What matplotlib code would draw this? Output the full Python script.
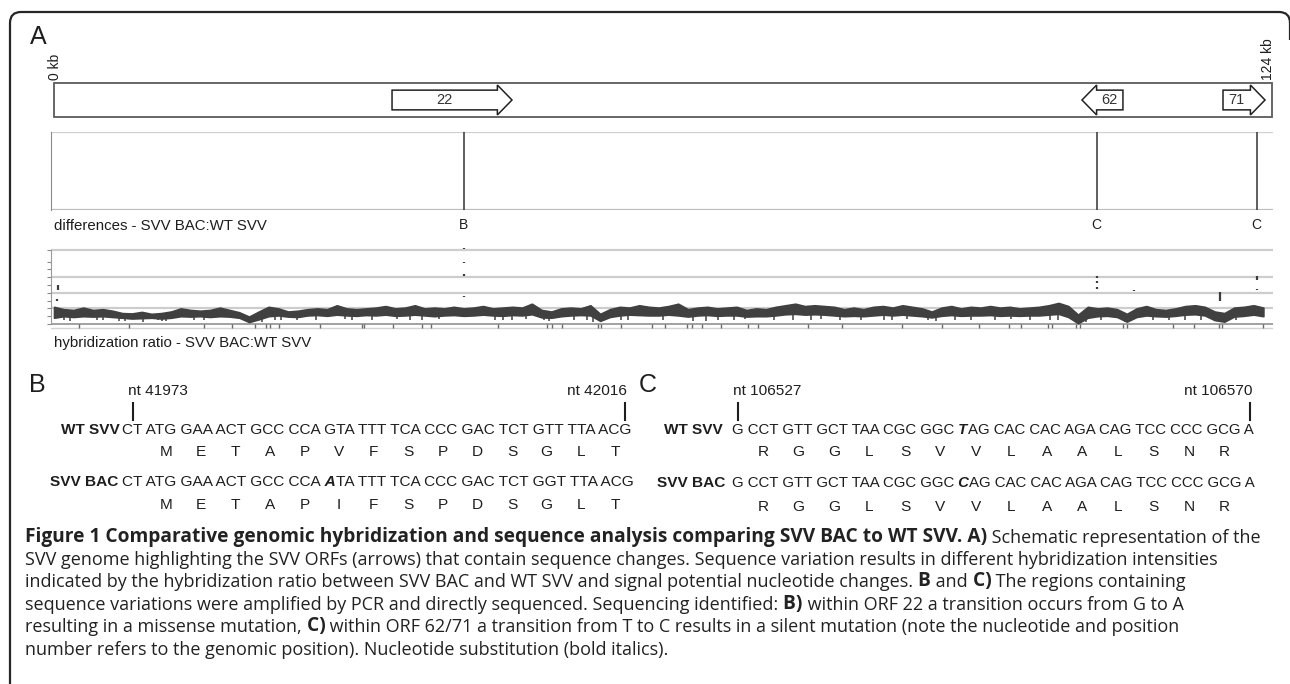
import numpy as np
import matplotlib.pyplot as plt
from matplotlib.patches import Polygon, Rectangle, PathPatch
from matplotlib.path import Path

plt.rcParams['font.family'] = ['Liberation Sans', 'DejaVu Sans']

W, H = 1290, 684

# genome map, kb
genome_kb = 124.884
orf_names = ['22', '62', '71']
orf_left_kb = [34.66, 105.4, 119.86]
orf_right_kb = [46.96, 109.6, 124.17]
orf_strand = [1, -1, 1]

diff_kb = [42.0, 106.9, 123.3]
diff_labels = ['B', 'C', 'C']

# hybridization ratio: upper / lower edge of the dense trace, every 1 kb
ratio_kb = list(range(125))
ratio_hi = [2.2, 1.9, 1.8, 2.1, 1.8, 1.9, 1.7, 1.4, 1.35, 1.55,
            1.3, 1.4, 1.6, 2.0, 1.8, 1.7, 1.8, 2.1, 1.8, 1.5,
            0.95, 1.6, 2.2, 2.0, 1.6, 1.7, 1.9, 2.0, 1.9, 2.4,
            2.0, 1.9, 2.0, 2.1, 2.3, 2.0, 2.1, 2.4, 2.0, 2.1,
            2.0, 2.2, 2.0, 2.1, 2.3, 2.0, 2.1, 2.2, 2.1, 2.6,
            1.8, 1.6, 2.0, 2.1, 2.0, 2.4, 1.3, 1.9, 2.2, 2.1,
            2.4, 2.2, 2.1, 2.3, 2.6, 1.9, 2.1, 2.2, 2.0, 2.1,
            2.2, 1.8, 2.0, 1.9, 2.2, 2.4, 2.6, 2.3, 2.4, 2.3,
            2.2, 1.9, 2.1, 1.9, 2.2, 2.3, 2.1, 2.4, 2.2, 2.0,
            1.6, 2.1, 2.3, 2.0, 2.2, 2.1, 2.3, 2.1, 2.2, 2.0,
            2.1, 2.2, 2.4, 2.7, 2.3, 1.2, 2.2, 2.0, 2.1, 1.9,
            1.3, 2.0, 2.3, 1.9, 1.8, 2.0, 2.3, 2.4, 2.2, 1.6,
            1.4, 2.1, 2.2, 2.4, 2.1]
ratio_lo = [0.8, 1.0, 0.9, 1.0, 0.95, 1.0, 0.9, 0.8, 0.7, 0.75,
            0.8, 0.7, 0.8, 1.0, 0.95, 1.0, 0.9, 1.0, 0.95, 0.8,
            0.25, 0.6, 1.0, 1.1, 0.95, 0.9, 1.1, 1.15, 1.05, 1.2,
            1.1, 1.05, 1.15, 1.1, 1.2, 1.05, 1.1, 1.2, 1.1, 1.0,
            1.1, 1.15, 1.05, 1.1, 1.2, 1.1, 1.05, 1.15, 1.1, 1.25,
            0.85, 0.8, 1.0, 1.1, 1.15, 1.1, 0.4, 0.9, 1.1, 1.2,
            1.15, 1.1, 1.1, 1.2, 1.1, 0.95, 1.1, 1.15, 1.05, 1.1,
            1.1, 0.95, 1.0, 1.0, 1.1, 1.25, 1.3, 1.2, 1.25, 1.2,
            1.1, 1.0, 1.05, 1.0, 1.1, 1.2, 1.1, 1.2, 1.1, 1.0,
            0.85, 1.05, 1.15, 1.05, 1.1, 1.1, 1.15, 1.05, 1.1, 1.05,
            1.1, 1.1, 1.2, 1.3, 0.9, 0.1, 0.8, 1.0, 1.05, 0.9,
            0.3, 0.9, 1.1, 1.0, 0.95, 1.05, 1.2, 1.25, 1.1, 0.5,
            0.3, 0.95, 1.05, 1.2, 1.0]

# isolated high probes
spike_kb = [0.3, 0.4, 42.0, 42.0, 42.0, 42.0, 106.9, 106.9, 106.9, 110.7, 119.6, 123.3, 123.3]
spike_lo = [3.0, 4.4, 9.6, 7.8, 6.15, 3.45, 5.95, 5.3, 4.5, 4.2, 3.0, 5.7, 4.3]
spike_hi = [3.2, 5.0, 9.8, 8.0, 6.35, 3.65, 6.15, 5.5, 4.7, 4.4, 4.1, 6.2, 4.5]

# low probes hanging under the trace
drip_kb = [1.0, 1.6, 4.4, 5.0, 6.7, 7.3, 9.1, 10.7, 11.1, 11.5, 14.4, 15.4, 21.3, 22.7,
           23.3, 24.9, 26.9, 29.8, 30.6, 32.6, 35.2, 36.5, 37.7, 39.5, 45.2, 46.0, 47.0,
           48.4, 50.2, 50.8, 53.3, 54.7, 55.3, 58.1, 58.9, 62.4, 65.5, 66.9, 68.1, 69.7,
           70.9, 73.8, 75.8, 77.6, 78.6, 80.6, 82.7, 85.1, 85.9, 87.5, 89.6, 90.4, 92.4,
           94.0, 96.5, 98.1, 100.1, 102.1, 102.9, 105.8, 107.4, 109.8, 112.7, 114.3,
           116.0, 117.6, 119.2, 121.2]
drip_val = [0.45, 0.4, 0.5, 0.45, 0.35, 0.4, 0.3, 0.45, 0.35, 0.4, 0.5, 0.45, 0.3, 0.5,
            0.45, 0.55, 0.5, 0.6, 0.55, 0.45, 0.6, 0.5, 0.55, 0.6, 0.5, 0.45, 0.55,
            0.6, 0.5, 0.4, 0.55, 0.5, 0.3, 0.5, 0.45, 0.55, 0.4, 0.35, 0.45, 0.55,
            0.6, 0.5, 0.45, 0.55, 0.6, 0.5, 0.55, 0.45, 0.5, 0.6, 0.55, 0.4, 0.5,
            0.55, 0.45, 0.6, 0.5, 0.55, 0.45, 0.2, 0.5, 0.3, 0.5, 0.45,
            0.55, 0.5, 0.35, 0.5]

rug_kb = [2.6, 7.7, 15.4, 18.3, 20.6, 21.7, 22.1, 23.1, 27.3, 31.6, 31.8, 34.8, 37.7,
          38.7, 45.5, 50.5, 51.1, 52.1, 55.8, 56.1, 58.1, 61.3, 62.6, 64.9, 65.4, 66.4,
          68.4, 71.2, 72.2, 77.3, 80.8, 86.9, 91.0, 94.8, 97.9, 99.1, 101.9, 102.3,
          104.8, 105.2, 109.6, 110.0, 114.7, 116.9, 119.4, 119.8, 124.0]

# sequences
b_nt = ['nt 41973', 'nt 42016']
b_wt = ['CT', 'ATG', 'GAA', 'ACT', 'GCC', 'CCA', 'GTA', 'TTT', 'TCA', 'CCC', 'GAC', 'TCT', 'GTT', 'TTA', 'ACG']
b_bac = ['CT', 'ATG', 'GAA', 'ACT', 'GCC', 'CCA', 'ATA', 'TTT', 'TCA', 'CCC', 'GAC', 'TCT', 'GGT', 'TTA', 'ACG']
b_wt_aa = ['M', 'E', 'T', 'A', 'P', 'V', 'F', 'S', 'P', 'D', 'S', 'G', 'L', 'T']
b_bac_aa = ['M', 'E', 'T', 'A', 'P', 'I', 'F', 'S', 'P', 'D', 'S', 'G', 'L', 'T']
b_mut = 6

c_nt = ['nt 106527', 'nt 106570']
c_wt = ['G', 'CCT', 'GTT', 'GCT', 'TAA', 'CGC', 'GGC', 'TAG', 'CAC', 'CAC', 'AGA', 'CAG', 'TCC', 'CCC', 'GCG', 'A']
c_bac = ['G', 'CCT', 'GTT', 'GCT', 'TAA', 'CGC', 'GGC', 'CAG', 'CAC', 'CAC', 'AGA', 'CAG', 'TCC', 'CCC', 'GCG', 'A']
c_aa = ['R', 'G', 'G', 'L', 'S', 'V', 'V', 'L', 'A', 'A', 'L', 'S', 'N', 'R']
c_mut = 7

caption = [
    [("Figure 1 Comparative genomic hybridization and sequence analysis comparing SVV BAC to WT SVV. A)", True),
     (" Schematic representation of the", False)],
    [("SVV genome highlighting the SVV ORFs (arrows) that contain sequence changes. Sequence variation results in different hybridization intensities", False)],
    [("indicated by the hybridization ratio between SVV BAC and WT SVV and signal potential nucleotide changes.", False),
     (" B", True), (" and", False), (" C)", True), (" The regions containing", False)],
    [("sequence variations were amplified by PCR and directly sequenced. Sequencing identified:", False),
     (" B)", True), (" within ORF 22 a transition occurs from G to A", False)],
    [("resulting in a missense mutation,", False), (" C)", True),
     (" within ORF 62/71 a transition from T to C results in a silent mutation (note the nucleotide and position", False)],
    [("number refers to the genomic position). Nucleotide substitution (bold italics).", False)],
]

INK = '#1e1e1e'
kb_px = 1218 / genome_kb

fig = plt.figure(figsize=(W / 100, H / 100), dpi=100)
bg = fig.add_axes([0, 0, 1, 1])
bg.set_xlim(0, W)
bg.set_ylim(H, 0)
bg.set_axis_off()
renderer = fig.canvas.get_renderer()


def px_axes(x0, y0, x1, y1, ylim):
    ax = fig.add_axes([x0 / W, 1 - y1 / H, (x1 - x0) / W, (y1 - y0) / H])
    ax.set_xlim((x0 - 54) / kb_px, (x1 - 54) / kb_px)
    ax.set_ylim(*ylim)
    ax.patch.set_visible(False)
    for s in ax.spines.values():
        s.set_visible(False)
    ax.set_xticks([])
    ax.set_yticks([])
    return ax


def fit_size(text, target_px, family, weight='normal'):
    probe = bg.text(0, 0, text, fontsize=12, family=family, fontweight=weight)
    w = probe.get_window_extent(renderer=renderer).width
    probe.remove()
    return 12 * target_px / w


def chain(x, y, parts, size, family, color=INK):
    # parts: (text, weight, style); later parts start where the previous one ends
    t = None
    for txt, weight, style in parts:
        kw = dict(fontsize=size, family=family, fontweight=weight, fontstyle=style, color=color)
        if t is None:
            t = bg.text(x, y, txt, va='center', **kw)
        else:
            t = bg.annotate(txt, xy=(1, 0), xycoords=t, va='bottom', **kw)
    return t


# frame: left side and top, rounded corners, right side runs off the page
frame = Path([(10, 700), (10, 23), (10, 12), (21, 12), (1279, 12), (1290, 12), (1290, 23), (1290, 40)],
             [Path.MOVETO, Path.LINETO, Path.CURVE3, Path.CURVE3, Path.LINETO, Path.CURVE3, Path.CURVE3, Path.LINETO])
bg.add_patch(PathPatch(frame, fill=False, ec='#262626', lw=1.6))
bg.text(38.5, 37.5, 'A', fontsize=18, ha='center', va='center', color=INK)
bg.text(55, 80, '0 kb', rotation=90, fontsize=10, ha='center', va='bottom', color=INK)
bg.text(1268, 80, '124 kb', rotation=90, fontsize=10, ha='center', va='bottom', color=INK)

# ORF strip
ax_orf = px_axes(54, 83, 1272, 117, (0, 1))
ax_orf.add_patch(Rectangle((0, 0), genome_kb, 1, fill=False, ec='#5a5a5a', lw=1.3, clip_on=False))
head = 1.5
for name, a, b, s in zip(orf_names, orf_left_kb, orf_right_kb, orf_strand):
    if s > 0:
        n = b - head
        pts = [(a, .21), (n, .21), (n, .06), (b, .5), (n, .94), (n, .79), (a, .79)]
        cx = (a + n) / 2
    else:
        n = a + head
        pts = [(b, .21), (n, .21), (n, .06), (a, .5), (n, .94), (n, .79), (b, .79)]
        cx = (n + b) / 2
    ax_orf.add_patch(Polygon(pts, closed=True, fc='white', ec='#222222', lw=1.1, clip_on=False))
    ax_orf.text(cx, 0.5, name, fontsize=10.5, ha='center', va='center', color='#333333')

# differences
ax_d = px_axes(51, 132, 1273, 210, (0, 1))
ax_d.axhline(0, color='#bdbdbd', lw=1.6)
ax_d.axhline(1, color='#cfcfcf', lw=1.6)
ax_d.spines['left'].set_visible(True)
ax_d.spines['left'].set_color('#8a8a8a')
ax_d.vlines(diff_kb, 0, 1, color='#333333', lw=1.1)
for k, lab in zip(diff_kb, diff_labels):
    ax_d.text(k, -0.19, lab, fontsize=10, ha='center', va='center', color=INK)
bg.text(54, 226, 'differences - SVV BAC:WT SVV', fontsize=10.8, ha='left', va='center', color=INK)

# hybridization ratio
base, unit = 324, 7.8
ax_h = px_axes(51, 244, 1273, 332, (-(332 - base) / unit, (base - 244) / unit))
for g in [2, 4, 6, 9.45]:
    ax_h.axhline(g, color='#cdcdcd', lw=1.6, zorder=1)
ax_h.axhline(0, color='#9a9a9a', lw=1.3, zorder=1)
ax_h.axhline(-0.45, color='#d4d4d4', lw=1.0, zorder=1)
ax_h.spines['left'].set_visible(True)
ax_h.spines['left'].set_color('#9a9a9a')
ax_h.spines['left'].set_bounds(0, 9.45)
ax_h.set_yticks(list(range(9)) + [9.45])
ax_h.tick_params(axis='y', length=3, color='#8a8a8a', labelleft=False)
ax_h.fill_between(ratio_kb, ratio_lo, ratio_hi, fc='#404040', ec='#404040', lw=1.2, zorder=3)
drip_top = np.interp(drip_kb, ratio_kb, ratio_lo) + 0.1
ax_h.vlines(drip_kb, drip_val, drip_top, color='#404040', lw=1.1, zorder=3)
ax_h.vlines(spike_kb, spike_lo, spike_hi, color='#3c3c3c', lw=1.6, zorder=3)
ax_h.vlines(rug_kb, -0.45, 0, color='#6a6a6a', lw=1.0, zorder=2)
bg.text(54, 343, 'hybridization ratio - SVV BAC:WT SVV', fontsize=10.8, ha='left', va='center', color=INK)

# sequence panels; one string per row, size fitted to the row widths
SEQ_FONT = ['Liberation Sans', 'DejaVu Sans']
SEQ_FS = fit_size(' '.join(b_wt), 509, SEQ_FONT)
SEQ_FS_C = fit_size(' '.join(c_wt), 524, SEQ_FONT)


def seq_row(x, y, codons, size, mut=None):
    if mut is None:
        parts = [(' '.join(codons), 'normal', 'normal')]
    else:
        parts = [(' '.join(codons[:mut]), 'normal', 'normal'),
                 (' ' + codons[mut][0], 'bold', 'italic'),
                 (codons[mut][1:] + ' ' + ' '.join(codons[mut + 1:]), 'normal', 'normal')]
    chain(x, y, parts, size, SEQ_FONT)


def aa_row(x0, step, y, aas):
    for j, a in enumerate(aas):
        bg.text(x0 + step * j, y, a, fontsize=SEQ_FS, family=SEQ_FONT, ha='center', va='center', color=INK)


def nt_mark(x_tick, label, left):
    bg.text(x_tick - 5 if left else x_tick + 2, 391, label, fontsize=SEQ_FS, family=SEQ_FONT,
            ha='left' if left else 'right', va='center', color=INK)
    bg.plot([x_tick, x_tick], [403, 420], color=INK, lw=1.5)


def row_label(x, y, s):
    bg.text(x, y, s, fontsize=SEQ_FS, family=SEQ_FONT, fontweight='bold', ha='right', va='center', color=INK)


bg.text(37, 385, 'B', fontsize=18, ha='center', va='center', color=INK)
nt_mark(133, b_nt[0], True)
nt_mark(625, b_nt[1], False)
row_label(120, 430, 'WT SVV')
seq_row(122, 430, b_wt, SEQ_FS)
aa_row(166, 34.6, 452, b_wt_aa)
row_label(118, 482, 'SVV BAC')
seq_row(122, 482, b_bac, SEQ_FS, b_mut)
aa_row(166, 34.6, 505, b_bac_aa)

bg.text(648, 385, 'C', fontsize=18, ha='center', va='center', color=INK)
nt_mark(738, c_nt[0], True)
nt_mark(1250, c_nt[1], False)
row_label(723, 430, 'WT SVV')
seq_row(732, 430, c_wt, SEQ_FS_C, c_mut)
aa_row(763, 35.5, 452, c_aa)
row_label(725, 483, 'SVV BAC')
seq_row(732, 483, c_bac, SEQ_FS_C, c_mut)
aa_row(763, 35.5, 507, c_aa)

# caption, size fitted so the second line spans like the original
CAP_FONT = ['Open Sans', 'DejaVu Sans']
cap_fs = fit_size(caption[1][0][0], 1191, CAP_FONT)
for row, parts in enumerate(caption):
    y = 537 + 22.6 * row
    t = None
    for txt, bold in parts:
        kw = dict(fontsize=cap_fs * (1.06 if bold else 1.0), family=CAP_FONT,
                  fontweight='bold' if bold else 'normal', color='#222222')
        if t is None:
            t = bg.text(25, y, txt, va='center', **kw)
        else:
            t = bg.annotate(txt, xy=(1, 0), xycoords=t, va='bottom', **kw)

fig.savefig('out.png', dpi=100)
